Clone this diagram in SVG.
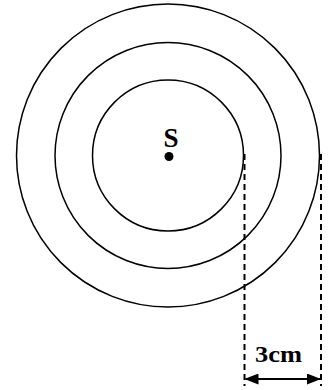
<svg xmlns="http://www.w3.org/2000/svg" width="330" height="390" viewBox="0 0 330 390">
<defs>
<style>
.c{fill:none;stroke:#000;stroke-width:1.5}
.d{stroke:#000;stroke-width:2;stroke-dasharray:6,4;fill:none}
.t{font-family:'Liberation Serif','Times New Roman',serif;font-weight:700;fill:#000}
</style>
<marker id="ah" viewBox="0 0 14 11" refX="13" refY="5.5" markerWidth="14" markerHeight="11" markerUnits="userSpaceOnUse" orient="auto-start-reverse">
<path d="M0,0 L14,5.5 L0,11 Z" fill="#000"/>
</marker>
</defs>
<g id="waves">
<circle class="c" cx="168" cy="155.5" r="151.5"/>
<circle class="c" cx="168" cy="155.5" r="113"/>
<circle class="c" cx="168" cy="155.5" r="75.5"/>
</g>
<g id="source">
<circle cx="169" cy="156.5" r="4.5" fill="#000"/>
<text class="t" x="171" y="147" font-size="27" text-anchor="middle">S</text>
</g>
<g id="connectors">
<line class="d" x1="244.5" y1="154" x2="244.5" y2="386"/>
<line class="d" x1="321" y1="154" x2="321" y2="386"/>
<line x1="245.5" y1="379" x2="320" y2="379" stroke="#000" stroke-width="2.2" marker-start="url(#ah)" marker-end="url(#ah)"/>
</g>
<g id="label">
<text class="t" x="255" y="362" font-size="23" textLength="47" lengthAdjust="spacingAndGlyphs">3cm</text>
</g>
</svg>
